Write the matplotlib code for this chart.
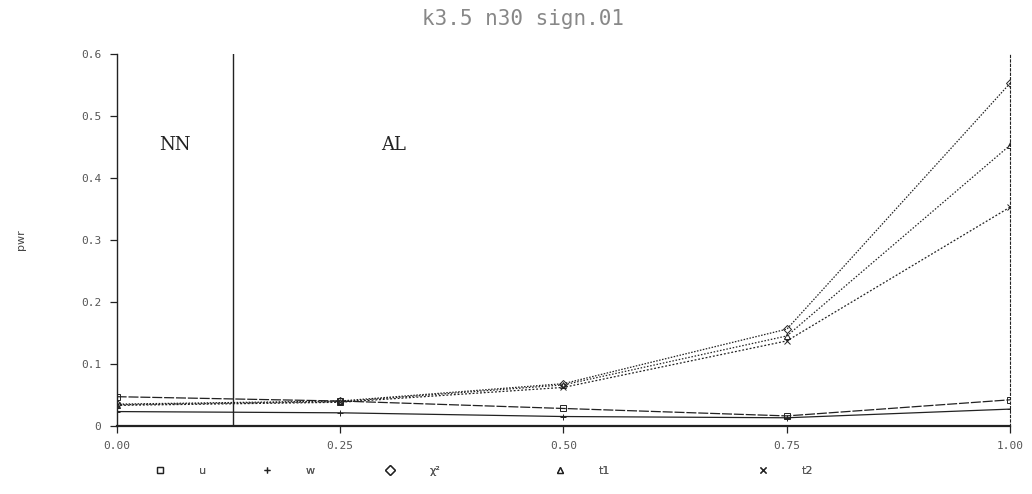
import matplotlib
matplotlib.use("Agg")
import matplotlib.pyplot as plt
from matplotlib.lines import Line2D

# Power of five normality tests against departure from normality
alpha_mix = [0.0, 0.25, 0.50, 0.75, 1.00]
series_names = ["u", "w", "χ²", "t1", "t2"]
pwr_u = [0.047, 0.040, 0.028, 0.016, 0.042]
pwr_w = [0.023, 0.021, 0.015, 0.013, 0.027]
pwr_chi = [0.035, 0.040, 0.068, 0.156, 0.553]
pwr_t1 = [0.034, 0.039, 0.066, 0.145, 0.453]
pwr_t2 = [0.033, 0.038, 0.062, 0.137, 0.353]
x_ticks = [0.0, 0.25, 0.50, 0.75, 1.00]
x_tick_labels = ["0.00", "0.25", "0.50", "0.75", "1.00"]
y_ticks = [0.0, 0.1, 0.2, 0.3, 0.4, 0.5, 0.6]
y_tick_labels = ["0", "0.1", "0.2", "0.3", "0.4", "0.5", "0.6"]
boundary = 0.13
region_labels = [("NN", 0.065), ("AL", 0.31)]

fig = plt.figure(figsize=(10.32, 4.94), dpi=100)
ax = fig.add_axes([0.113, 0.138, 0.866, 0.753])

ink = "#222222"
markers = ["s", "+", "D", "^", "x"]
styles = [
    (pwr_u, (0, (8, 1.5))),
    (pwr_w, "-"),
    (pwr_chi, (0, (1.2, 1.2))),
    (pwr_t1, (0, (1.2, 1.4))),
    (pwr_t2, (0, (1.5, 1.5))),
]
for (vals, ls), mk, name in zip(styles, markers, series_names):
    ax.plot(alpha_mix, vals, color=ink, lw=0.9, ls=ls, marker=mk,
            markersize=4, markerfacecolor="none", markeredgewidth=0.7,
            label=name)

ax.axvline(boundary, color=ink, lw=1.0)
for txt, xp in region_labels:
    ax.text(xp, 0.453, txt, fontsize=13, family="DejaVu Serif",
            color=ink, ha="center", va="center")

ax.set_xlim(0, 1)
ax.set_ylim(0, 0.6)
ax.set_xticks(x_ticks)
ax.set_xticklabels(x_tick_labels)
ax.set_yticks(y_ticks)
ax.set_yticklabels(y_tick_labels)
ax.tick_params(axis="both", direction="out", length=5, width=0.9,
               colors=ink, labelsize=8, labelcolor="#555555")
for lbl in ax.get_xticklabels() + ax.get_yticklabels():
    lbl.set_family("DejaVu Sans Mono")
ax.tick_params(axis="y", pad=6)
ax.tick_params(axis="x", pad=6)

ax.spines["top"].set_visible(False)
ax.spines["right"].set_linestyle((0, (2, 2)))
ax.spines["right"].set_linewidth(0.8)
ax.spines["left"].set_linewidth(1.0)
ax.spines["bottom"].set_linewidth(1.6)
for s in ax.spines.values():
    s.set_color(ink)

ax.set_ylabel("pwr", fontsize=8, color="#444444", labelpad=40)

fig.text(0.507, 0.962, "k3.5 n30 sign.01", ha="center", va="center",
         fontsize=15, family="DejaVu Sans Mono", color="#888888")

# key along the bottom: symbol, then the test name
key_x = [0.150, 0.253, 0.373, 0.537, 0.734]
for xk, mk, name in zip(key_x, markers, series_names):
    handle = Line2D([], [], ls="none", marker=mk, markersize=5,
                    markerfacecolor="none", markeredgewidth=0.9, color=ink)
    leg = fig.legend(handles=[handle], labels=[name], loc="center left",
                     bbox_to_anchor=(xk, 0.047), frameon=False, fontsize=8,
                     handlelength=1.0, handletextpad=3.0,
                     labelcolor="#555555", borderaxespad=0, borderpad=0)
    fig.add_artist(leg)

fig.savefig("out.png", dpi=100, facecolor="white")
